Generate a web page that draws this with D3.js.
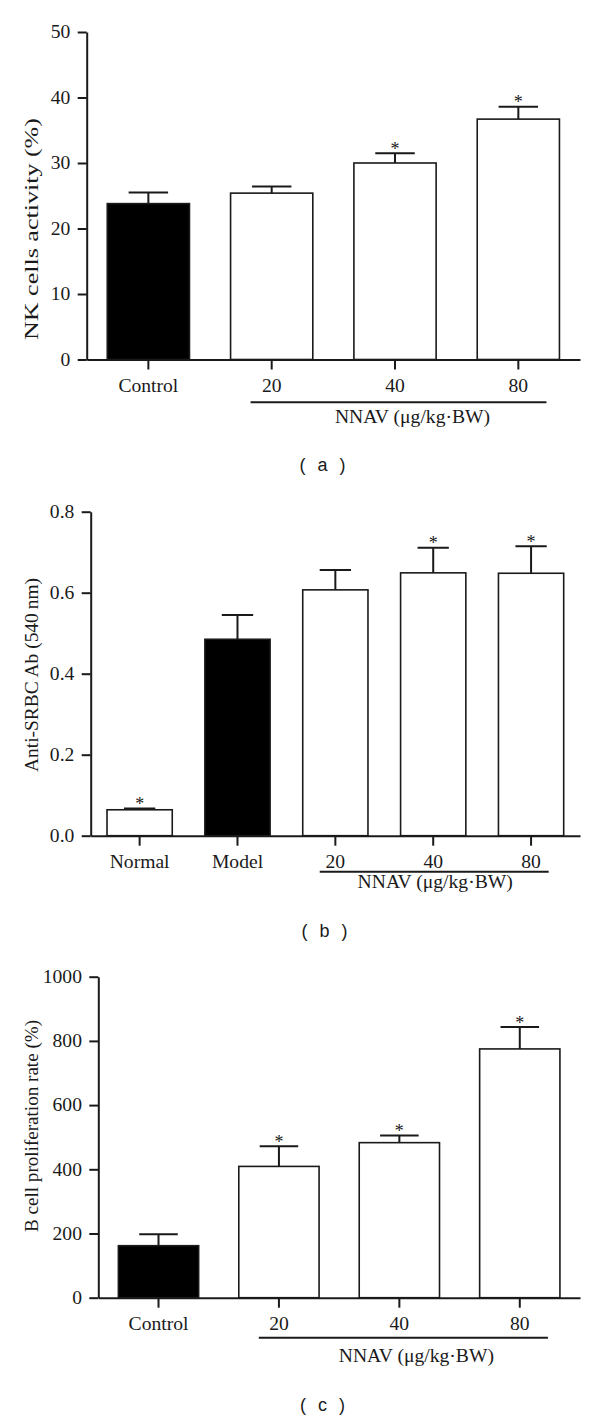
<!DOCTYPE html>
<html>
<head>
<meta charset="utf-8">
<script src="https://cdn.jsdelivr.net/npm/d3@7"></script>
<style>
  html, body { margin: 0; padding: 0; background: #fff; }
  svg { display: block; }
  .serif { font-family: "Liberation Serif", "Times New Roman", "DejaVu Serif", serif; }
  .sans { font-family: "Liberation Sans", Arial, sans-serif; }
</style>
</head>
<body>
<script>
// ---------------- Data ----------------
// Panel (a): NK cells activity (%)
const catsA  = ["Control", "20", "40", "80"];
const meansA = [23.8, 25.4, 30.0, 36.7];
const errsA  = [1.7, 1.0, 1.5, 1.9];
const sigA   = [false, false, true, true];
const ticksA = [0, 10, 20, 30, 40, 50];

// Panel (b): Anti-SRBC Ab (540 nm)
const catsB  = ["Normal", "Model", "20", "40", "80"];
const meansB = [0.064, 0.485, 0.607, 0.649, 0.648];
const errsB  = [0.003, 0.060, 0.049, 0.062, 0.067];
const sigB   = [true, false, false, true, true];
const ticksB = [0.0, 0.2, 0.4, 0.6, 0.8];

// Panel (c): B cell proliferation rate (%)
const catsC  = ["Control", "20", "40", "80"];
const meansC = [162, 409, 483, 775];
const errsC  = [36, 63, 22, 68];
const sigC   = [false, true, true, true];
const ticksC = [0, 200, 400, 600, 800, 1000];

const doseGroups = ["20", "40", "80"];
const doseLabel = "NNAV (\u03BCg/kg\u00B7BW)";

// ---------------- Drawing ----------------
const ink = "#1a1a1a";

const svg = d3.select("body").append("svg")
  .attr("width", 600).attr("height", 1418);

function panel(L, cats, means, errs, sig, ticks, fmt, ylabel, tag) {
  const g = svg.append("g");
  const x = d3.scaleBand().domain(cats).range([L.x0, L.x1])
    .paddingInner(1/3).paddingOuter(1/6);
  const y = d3.scaleLinear().domain([0, ticks[ticks.length - 1]]).range([L.yBot, L.yTop]);
  const bw = x.bandwidth();

  // bars
  g.selectAll("rect.bar").data(cats).enter().append("rect")
    .attr("class", "bar")
    .attr("x", d => x(d))
    .attr("y", (d, i) => y(means[i]))
    .attr("width", bw)
    .attr("height", (d, i) => L.yBot - y(means[i]))
    .attr("fill", d => (d === "Control" || d === "Model") ? "#000" : "#fff")
    .attr("stroke", ink).attr("stroke-width", 1.6);

  // error bars
  const capW = bw * 0.48;
  g.selectAll("path.err").data(cats).enter().append("path")
    .attr("class", "err")
    .attr("d", (d, i) => {
      const cx = x(d) + bw / 2, top = y(means[i] + errs[i]);
      return `M${cx},${y(means[i])}V${top}M${cx - capW / 2},${top}H${cx + capW / 2}`;
    })
    .attr("fill", "none").attr("stroke", ink).attr("stroke-width", 2);

  // significance asterisks
  g.selectAll("text.sig").data(cats.filter((d, i) => sig[i])).enter().append("text")
    .attr("class", "sig serif")
    .attr("x", d => x(d) + bw / 2)
    .attr("y", d => { const i = cats.indexOf(d); return y(means[i] + errs[i]) + 1.5; })
    .attr("text-anchor", "middle")
    .style("font-size", "18px").attr("fill", ink)
    .text("*");

  // y axis
  const ya = g.append("g").attr("transform", `translate(${L.x0},0)`)
    .call(d3.axisLeft(y).tickValues(ticks).tickFormat(fmt).tickSize(9).tickSizeOuter(0).tickPadding(6));
  // x axis
  const xa = g.append("g").attr("transform", `translate(0,${L.yBot})`)
    .call(d3.axisBottom(x).tickSize(10).tickSizeOuter(0).tickPadding(10));
  [ya, xa].forEach(a => {
    a.attr("font-family", null).attr("font-size", null);
    a.select(".domain").attr("stroke", ink).attr("stroke-width", 2);
    a.selectAll(".tick line").attr("stroke", ink).attr("stroke-width", 2);
    a.selectAll(".tick text")
      .attr("class", "serif")
      .style("font-size", "18px").attr("fill", ink)
      .attr("transform", "scale(1.09,1)");
  });

  // dose bracket
  const bx0 = x(doseGroups[0]) + L.brL;
  const bx1 = x(doseGroups[doseGroups.length - 1]) + bw - L.brR;
  g.append("line").attr("x1", bx0).attr("x2", bx1)
    .attr("y1", L.brY).attr("y2", L.brY)
    .attr("stroke", ink).attr("stroke-width", 2);
  g.append("g").attr("transform", `translate(${(bx0 + bx1) / 2 + L.doseDx},${L.doseY}) scale(1.09,1)`)
    .append("text").attr("class", "serif").attr("text-anchor", "middle")
    .style("font-size", "18px").attr("fill", ink)
    .text(doseLabel);

  // y label
  g.append("g").attr("transform", `translate(31.5,${L.ylCy}) rotate(-90)`)
    .append("text").attr("class", "serif").attr("text-anchor", "middle").attr("dy", "0.35em")
    .style("font-size", "19px").attr("fill", ink)
    .attr("textLength", L.ylLen).attr("lengthAdjust", "spacingAndGlyphs")
    .text(ylabel);

  // panel tag
  g.append("text").attr("class", "sans").attr("x", L.tagX).attr("y", L.tagY)
    .attr("text-anchor", "middle").attr("dominant-baseline", "central")
    .style("font-size", "18px").attr("fill", ink)
    .style("letter-spacing", "3px").style("word-spacing", "1px")
    .text(tag);
}

panel({x0: 86.7, x1: 580, yTop: 32, yBot: 359.5, brL: 20, brR: 13, brY: 402.3,
       doseDx: 14, doseY: 422.5, ylCy: 229, ylLen: 222, tagX: 324, tagY: 465},
      catsA, meansA, errsA, sigA, ticksA, d3.format("d"),
      "NK cells activity (%)", "( a )");

panel({x0: 90.7, x1: 580, yTop: 511.7, yBot: 835.7, brL: 17, brR: 15, brY: 871.7,
       doseDx: 1, doseY: 888, ylCy: 675, ylLen: 194, tagX: 326, tagY: 931},
      catsB, meansB, errsB, sigB, ticksB, d3.format(".1f"),
      "Anti-SRBC Ab (540\u2009nm)", "( b )");

panel({x0: 98.3, x1: 580, yTop: 976.7, yBot: 1297.7, brL: 20, brR: 12, brY: 1337.7,
       doseDx: 13, doseY: 1361.5, ylCy: 1126, ylLen: 212, tagX: 324, tagY: 1405},
      catsC, meansC, errsC, sigC, ticksC, d3.format("d"),
      "B cell proliferation rate (%)", "( c )");
</script>
</body>
</html>
